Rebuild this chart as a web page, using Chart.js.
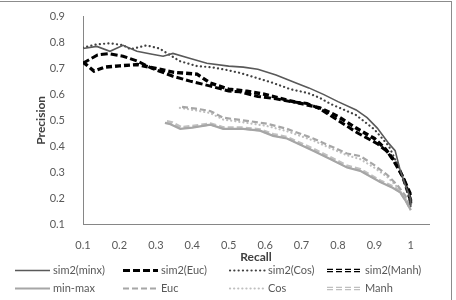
<!DOCTYPE html>
<html>
<head>
<meta charset="utf-8">
<script src="https://cdn.jsdelivr.net/npm/chart.js@4.4.1/dist/chart.umd.min.js"></script>
<style>
  html, body { margin: 0; padding: 0; background: #fff; }
  #wrap { width: 456px; height: 300px; position: relative; }
</style>
</head>
<body>
<div id="wrap"><canvas id="prChart"></canvas></div>
<script>
// ================= DATA =================
const xTicks = [0.1, 0.2, 0.3, 0.4, 0.5, 0.6, 0.7, 0.8, 0.9, 1];
const yTicks = [0.1, 0.2, 0.3, 0.4, 0.5, 0.6, 0.7, 0.8, 0.9];

const seriesNames = ["sim2(minx)", "sim2(Euc)", "sim2(Cos)", "sim2(Manh)", "min-max", "Euc", "Cos", "Manh"];

// [recall, precision]
const sim2Minx = [[0.1,0.777],[0.138,0.785],[0.174,0.766],[0.21,0.789],[0.248,0.766],[0.29,0.755],[0.32,0.747],[0.347,0.758],[0.39,0.74],[0.44,0.72],[0.5,0.709],[0.54,0.705],[0.58,0.697],[0.63,0.675],[0.685,0.644],[0.72,0.625],[0.76,0.60],[0.8,0.572],[0.85,0.54],[0.88,0.51],[0.908,0.47],[0.94,0.41],[0.957,0.383],[0.971,0.307],[0.985,0.25],[0.998,0.203],[1.0,0.165]];
const sim2Euc = [[0.1,0.72],[0.14,0.752],[0.17,0.757],[0.21,0.747],[0.25,0.728],[0.29,0.70],[0.347,0.67],[0.394,0.651],[0.45,0.632],[0.5,0.613],[0.53,0.61],[0.58,0.592],[0.63,0.583],[0.67,0.572],[0.715,0.565],[0.75,0.545],[0.8,0.50],[0.853,0.452],[0.908,0.41],[0.935,0.38],[0.952,0.345],[0.979,0.28],[0.998,0.22],[1.0,0.18]];
const sim2Cos = [[0.1,0.78],[0.138,0.793],[0.174,0.797],[0.21,0.79],[0.23,0.774],[0.275,0.789],[0.31,0.777],[0.366,0.728],[0.413,0.709],[0.45,0.705],[0.485,0.697],[0.53,0.683],[0.578,0.663],[0.62,0.645],[0.669,0.62],[0.718,0.605],[0.751,0.586],[0.78,0.563],[0.85,0.52],[0.9,0.465],[0.94,0.40],[0.96,0.34],[0.975,0.29],[0.99,0.23],[1.0,0.17]];
const sim2Manh = [[0.1,0.725],[0.13,0.69],[0.16,0.705],[0.2,0.71],[0.25,0.715],[0.3,0.70],[0.35,0.685],[0.413,0.678],[0.449,0.644],[0.5,0.62],[0.55,0.612],[0.6,0.60],[0.669,0.575],[0.704,0.563],[0.75,0.548],[0.8,0.515],[0.85,0.47],[0.9,0.43],[0.93,0.39],[0.96,0.335],[0.98,0.275],[1.0,0.19]];
const minMax = [[0.325,0.49],[0.34,0.485],[0.367,0.467],[0.40,0.472],[0.45,0.483],[0.485,0.467],[0.54,0.467],[0.586,0.46],[0.622,0.44],[0.66,0.43],[0.732,0.383],[0.78,0.35],[0.825,0.318],[0.861,0.305],[0.916,0.262],[0.95,0.24],[0.971,0.222],[0.99,0.18],[1.0,0.153]];
const eucPts = [[0.372,0.552],[0.41,0.545],[0.449,0.536],[0.485,0.51],[0.55,0.498],[0.605,0.487],[0.66,0.467],[0.732,0.43],[0.78,0.40],[0.825,0.372],[0.861,0.362],[0.897,0.33],[0.935,0.29],[0.963,0.25],[0.985,0.21],[1.0,0.16]];
const cosPts = [[0.366,0.548],[0.41,0.538],[0.449,0.528],[0.485,0.503],[0.55,0.49],[0.605,0.478],[0.66,0.458],[0.732,0.422],[0.78,0.392],[0.825,0.365],[0.861,0.35],[0.897,0.32],[0.935,0.282],[0.963,0.243],[0.985,0.2],[1.0,0.158]];
const manhPts = [[0.33,0.495],[0.345,0.49],[0.37,0.472],[0.40,0.476],[0.45,0.486],[0.485,0.471],[0.54,0.47],[0.586,0.463],[0.622,0.445],[0.66,0.434],[0.732,0.388],[0.78,0.355],[0.825,0.323],[0.861,0.31],[0.916,0.266],[0.95,0.244],[0.971,0.226],[0.99,0.184],[1.0,0.156]];

// ================= STYLES =================
const toXY = pts => pts.map(p => ({ x: p[0], y: p[1] }));

const styles = [
  { data: sim2Minx, color: "#595959", width: 1.6, dash: [], cap: "butt" },
  { data: sim2Euc,  color: "#000000", width: 3,   dash: [7, 3], cap: "butt" },
  { data: sim2Cos,  color: "#404040", width: 2.2, dash: [0.1, 4.2], cap: "round" },
  { data: sim2Manh, color: "#000000", width: 3.4, dash: [6, 3], cap: "butt", hollow: true },
  { data: minMax,   color: "#a6a6a6", width: 2.2, dash: [], cap: "butt" },
  { data: eucPts,   color: "#a6a6a6", width: 2.2, dash: [6, 3], cap: "butt" },
  { data: cosPts,   color: "#bfbfbf", width: 2.2, dash: [0.1, 4], cap: "round" },
  { data: manhPts,  color: "#bfbfbf", width: 3.4, dash: [6, 3], cap: "butt", hollow: true }
];

const datasets = [];
styles.forEach((s, i) => {
  datasets.push({
    label: seriesNames[i],
    data: toXY(s.data),
    borderColor: s.color,
    borderWidth: s.width,
    borderDash: s.dash,
    borderCapStyle: s.cap,
    pointRadius: 0,
    tension: 0,
    fill: false
  });
  if (s.hollow) {
    // inner white stroke to get the hollow dash look
    datasets.push({
      label: "",
      data: toXY(s.data),
      borderColor: "#ffffff",
      borderWidth: 1.2,
      borderDash: s.dash,
      borderCapStyle: "butt",
      pointRadius: 0,
      tension: 0,
      fill: false
    });
  }
});

// ================= PLUGINS =================
const framePlugin = {
  id: "frame",
  afterDraw(chart) {
    const ctx = chart.ctx;
    ctx.save();
    ctx.strokeStyle = "#8c8c8c";
    ctx.lineWidth = 1;
    ctx.strokeRect(-1, 1.5, 452.5, 302);
    ctx.restore();
  }
};

const legendCols = [15, 123, 230, 327];
const legendRows = [270, 288];

const legendPlugin = {
  id: "colLegend",
  afterDraw(chart) {
    const ctx = chart.ctx;
    ctx.save();
    ctx.font = "11px Lato";
    ctx.fillStyle = "#595959";
    ctx.textBaseline = "middle";
    styles.forEach((s, i) => {
      const x = legendCols[i % 4];
      const y = legendRows[Math.floor(i / 4)];
      const len = 35;
      ctx.beginPath();
      ctx.strokeStyle = s.color;
      ctx.lineWidth = s.width;
      ctx.lineCap = s.cap;
      ctx.setLineDash(s.dash);
      ctx.moveTo(x, y + 0.5);
      ctx.lineTo(x + len, y + 0.5);
      ctx.stroke();
      if (s.hollow) {
        ctx.beginPath();
        ctx.strokeStyle = "#ffffff";
        ctx.lineWidth = 1.2;
        ctx.lineCap = "butt";
        ctx.moveTo(x, y + 0.5);
        ctx.lineTo(x + len, y + 0.5);
        ctx.stroke();
      }
      ctx.setLineDash([]);
      ctx.fillText(seriesNames[i], x + len + 3, y);
    });
    ctx.restore();
  }
};

// ================= CHART =================
const fmt = v => String(Math.round(v * 10) / 10);

new Chart(document.getElementById("prChart"), {
  type: "line",
  data: { datasets },
  plugins: [framePlugin, legendPlugin],
  options: {
    responsive: true,
    maintainAspectRatio: false,
    animation: false,
    events: [],
    layout: { padding: { left: 0, right: 27, top: 15, bottom: 36 } },
    plugins: { legend: { display: false }, tooltip: { enabled: false } },
    scales: {
      x: {
        type: "linear",
        min: 0.1,
        max: 1.05,
        afterBuildTicks: scale => { scale.ticks = xTicks.map(v => ({ value: v })); },
        afterFit: scale => { scale.height = 40; },
        grid: { display: false },
        border: { display: true, color: "#868686", width: 1 },
        ticks: { color: "#595959", font: { family: "Lato", size: 11 }, padding: 7, callback: fmt, maxRotation: 0 },
        title: { display: true, text: "Recall", color: "#404040", font: { family: "Lato", size: 12, weight: "bold" }, padding: { top: 0, bottom: 0 } }
      },
      y: {
        type: "linear",
        min: 0.1,
        max: 0.9,
        afterBuildTicks: scale => { scale.ticks = yTicks.map(v => ({ value: v })); },
        afterFit: scale => { scale.width = 83; },
        grid: { display: false },
        border: { display: true, color: "#868686", width: 1 },
        ticks: { color: "#595959", font: { family: "Lato", size: 11 }, padding: 10, callback: fmt },
        title: { display: true, text: "Precision", color: "#404040", font: { family: "Lato", size: 12, weight: "bold" }, padding: { top: 34, bottom: 0 } }
      }
    }
  }
});
</script>
</body>
</html>
